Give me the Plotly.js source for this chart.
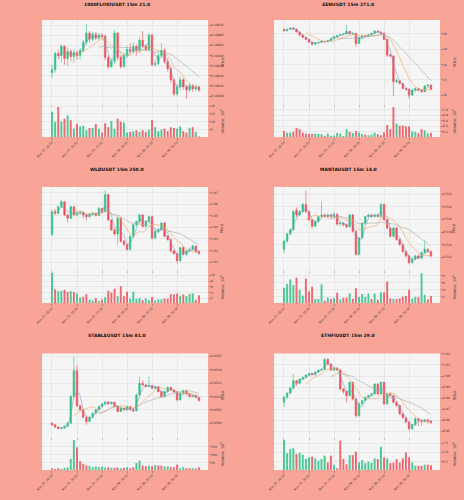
<!DOCTYPE html>
<html><head><meta charset="utf-8">
<script src="https://cdn.plot.ly/plotly-3.0.1.min.js"></script>
<style>html,body{margin:0;padding:0;background:#F8A598;}#chart{width:464px;height:500px;}</style>
</head><body><div id="chart"></div>
<script>
// ---------- tick labels / categories ----------
const timeLabels = ['Nov 07, 18:00','Nov 07, 20:00','Nov 07, 22:00','Nov 08, 00:00','Nov 08, 02:00','Nov 08, 04:00'];
const timeTickIdx = [0, 8, 16, 24, 32, 40];
const panelTitles = ['1000FLOKIUSDT 15m 21.0','ZENUSDT 15m 271.0','WLDUSDT 15m 250.0','MANTAUSDT 15m 14.0','STABLEUSDT 15m 81.0','ETHFIUSDT 15m 29.0'];

// ---------- 1000FLOKIUSDT ----------
const flokiOpen  = [0.10823,0.10826,0.10842,0.10840,0.10849,0.10837,0.10844,0.10839,0.10843,0.10840,0.10845,0.10853,0.10862,0.10856,0.10861,0.10857,0.10860,0.10859,0.10838,0.10829,0.10834,0.10862,0.10838,0.10829,0.10840,0.10846,0.10844,0.10849,0.10845,0.10855,0.10849,0.10846,0.10860,0.10831,0.10832,0.10840,0.10845,0.10834,0.10827,0.10816,0.10802,0.10809,0.10816,0.10809,0.10806,0.10810,0.10807,0.10809];
const flokiClose = [0.10826,0.10842,0.10840,0.10849,0.10837,0.10844,0.10839,0.10843,0.10840,0.10845,0.10853,0.10862,0.10856,0.10861,0.10857,0.10860,0.10859,0.10838,0.10829,0.10834,0.10862,0.10838,0.10829,0.10840,0.10846,0.10844,0.10849,0.10845,0.10855,0.10849,0.10846,0.10860,0.10831,0.10832,0.10840,0.10845,0.10834,0.10827,0.10816,0.10802,0.10809,0.10816,0.10809,0.10806,0.10810,0.10807,0.10809,0.10806];
const flokiHigh  = [0.10831,0.10844,0.10846,0.10851,0.10850,0.10847,0.10846,0.10846,0.10845,0.10847,0.10855,0.10871,0.10864,0.10863,0.10863,0.10862,0.10862,0.10861,0.10840,0.10837,0.10865,0.10863,0.10840,0.10843,0.10849,0.10852,0.10853,0.10851,0.10858,0.10864,0.10851,0.10862,0.10861,0.10836,0.10843,0.10852,0.10847,0.10837,0.10829,0.10818,0.10812,0.10819,0.10818,0.10811,0.10813,0.10812,0.10811,0.10810];
const flokiLow   = [0.10818,0.10823,0.10837,0.10833,0.10831,0.10830,0.10834,0.10833,0.10836,0.10836,0.10843,0.10851,0.10853,0.10854,0.10855,0.10855,0.10856,0.10835,0.10827,0.10828,0.10832,0.10835,0.10827,0.10828,0.10838,0.10841,0.10842,0.10840,0.10843,0.10847,0.10844,0.10844,0.10829,0.10829,0.10830,0.10838,0.10832,0.10824,0.10813,0.10800,0.10800,0.10806,0.10806,0.10797,0.10804,0.10804,0.10805,0.10804];
const flokiVolume = [16.5,10,19.5,10,12,14,11,5.5,8.5,7,7.5,4.5,6,6,8.5,5.5,3,9,6.5,10.5,5.5,12,10,9.5,3,3.5,4,4.5,3.5,4.5,3.5,5,11,6.5,4,5,5.5,4,6.5,6,5.5,7,4,3,6,6.5,3.5,0.5];

// ---------- ZENUSDT ----------
const zenOpen  = [20.28,20.19,20.28,20.37,20.30,20.11,19.91,19.76,19.63,19.44,19.31,19.42,19.44,19.50,19.48,19.55,19.68,19.81,19.89,19.94,19.98,20.15,19.98,20.02,19.37,19.76,19.85,19.83,19.94,20.02,20.17,20.11,20.02,19.63,18.62,18.55,16.89,16.95,16.78,16.45,16.39,16.02,16.35,16.43,16.35,16.24,16.61,16.67];
const zenClose = [20.19,20.28,20.37,20.30,20.11,19.91,19.76,19.63,19.44,19.31,19.42,19.44,19.50,19.48,19.55,19.68,19.81,19.89,19.94,19.98,20.15,19.98,20.02,19.37,19.76,19.85,19.83,19.94,20.02,20.17,20.11,20.02,19.63,18.62,18.55,16.89,16.95,16.78,16.45,16.39,16.02,16.35,16.43,16.35,16.24,16.61,16.67,16.39];
const zenHigh  = [20.33,20.32,20.41,20.40,20.32,20.13,19.93,19.78,19.66,19.47,19.45,19.48,19.55,19.53,19.58,19.70,19.84,19.92,19.98,20.02,20.56,20.17,20.06,20.04,19.79,19.88,19.89,19.97,20.06,20.24,20.20,20.13,20.04,19.66,18.70,18.58,17.10,17.00,16.82,16.50,16.43,16.39,16.52,16.47,16.38,16.64,16.72,16.70];
const zenLow   = [20.15,20.15,20.25,20.27,20.08,19.87,19.72,19.58,19.40,19.22,19.28,19.38,19.40,19.43,19.45,19.52,19.65,19.77,19.86,19.90,19.95,19.94,19.95,19.16,19.33,19.72,19.79,19.80,19.90,19.98,20.06,19.98,19.58,18.50,18.46,15.96,16.80,16.70,16.40,16.30,15.76,15.98,16.30,16.28,16.18,16.22,16.58,16.33];
const zenVolume = [0.22,0.17,0.17,0.20,0.34,0.30,0.17,0.14,0.13,0.13,0.14,0.13,0.12,0.06,0.14,0.06,0.07,0.16,0.14,0.05,0.30,0.20,0.16,0.23,0.18,0.12,0.10,0.08,0.10,0.17,0.12,0.08,0.18,0.45,0.30,1.10,0.50,0.42,0.43,0.40,0.40,0.22,0.20,0.15,0.30,0.25,0.15,0.17];

// ---------- WLDUSDT ----------
const wldOpen  = [2.0338,2.0536,2.0522,2.0578,2.0621,2.0508,2.0479,2.0578,2.0508,2.0522,2.0530,2.0508,2.0493,2.0513,2.0522,2.0502,2.0564,2.0536,2.0683,2.0465,2.0380,2.0343,2.0479,2.0281,2.0253,2.0210,2.0324,2.0423,2.0451,2.0508,2.0408,2.0451,2.0493,2.0309,2.0366,2.0380,2.0437,2.0324,2.0295,2.0196,2.0174,2.0111,2.0225,2.0168,2.0196,2.0210,2.0239,2.0191];
const wldClose = [2.0536,2.0522,2.0578,2.0621,2.0508,2.0479,2.0578,2.0508,2.0522,2.0530,2.0508,2.0493,2.0513,2.0522,2.0502,2.0564,2.0536,2.0683,2.0465,2.0380,2.0343,2.0479,2.0281,2.0253,2.0210,2.0324,2.0423,2.0451,2.0508,2.0408,2.0451,2.0493,2.0309,2.0366,2.0380,2.0437,2.0324,2.0295,2.0196,2.0174,2.0111,2.0225,2.0168,2.0196,2.0210,2.0239,2.0191,2.0174];
const wldHigh  = [2.0550,2.0560,2.0590,2.0640,2.0625,2.0515,2.0590,2.0585,2.0530,2.0545,2.0540,2.0515,2.0525,2.0535,2.0530,2.0575,2.0570,2.0720,2.0690,2.0470,2.0390,2.0490,2.0485,2.0290,2.0260,2.0330,2.0430,2.0460,2.0520,2.0515,2.0460,2.0500,2.0500,2.0370,2.0395,2.0450,2.0450,2.0335,2.0300,2.0210,2.0180,2.0235,2.0240,2.0205,2.0225,2.0250,2.0245,2.0200];
const wldLow   = [2.0325,2.0505,2.0510,2.0570,2.0500,2.0440,2.0470,2.0500,2.0495,2.0515,2.0480,2.0460,2.0485,2.0505,2.0495,2.0495,2.0525,2.0530,2.0455,2.0370,2.0330,2.0250,2.0270,2.0240,2.0200,2.0200,2.0310,2.0410,2.0440,2.0400,2.0400,2.0440,2.0295,2.0300,2.0360,2.0370,2.0315,2.0285,2.0185,2.0165,2.0090,2.0105,2.0155,2.0150,2.0190,2.0200,2.0180,2.0165];
const wldVolume = [10.8,5.1,4.5,4.6,5.0,4.2,4.5,4.2,3.6,2.2,2.5,3.4,1.5,1.2,2.0,1.0,1.5,2.3,4.6,4.0,5.3,2.7,6.2,2.7,4.3,1.8,4.3,1.7,2.0,1.3,2.0,1.3,2.4,1.2,1.6,1.6,1.9,1.8,3.4,3.3,3.6,2.8,3.3,2.7,3.5,3.7,1.4,3.0];

// ---------- MANTAUSDT ----------
const mantaOpen  = [0.51325,0.51455,0.51570,0.51638,0.51950,0.51872,0.51924,0.52039,0.51924,0.51794,0.51690,0.51768,0.51846,0.51872,0.51846,0.51872,0.51846,0.51883,0.51726,0.51742,0.51716,0.51685,0.51872,0.51612,0.51247,0.51507,0.51742,0.51846,0.51872,0.51846,0.51872,0.51846,0.52039,0.51794,0.51664,0.51533,0.51664,0.51481,0.51403,0.51289,0.51221,0.51117,0.51169,0.51221,0.51184,0.51273,0.51325,0.51289];
const mantaClose = [0.51455,0.51570,0.51638,0.51924,0.51872,0.51924,0.52039,0.51924,0.51794,0.51690,0.51768,0.51846,0.51872,0.51846,0.51872,0.51846,0.51883,0.51726,0.51742,0.51716,0.51685,0.51872,0.51612,0.51247,0.51507,0.51742,0.51846,0.51872,0.51846,0.51872,0.51846,0.52039,0.51794,0.51664,0.51533,0.51664,0.51481,0.51403,0.51289,0.51221,0.51117,0.51169,0.51221,0.51184,0.51273,0.51325,0.51289,0.51221];
const mantaHigh  = [0.51480,0.51590,0.51660,0.51950,0.51990,0.51950,0.52060,0.52263,0.51940,0.51810,0.51790,0.51860,0.52080,0.51890,0.51895,0.51890,0.51920,0.51900,0.51760,0.51760,0.51730,0.51890,0.51890,0.51630,0.51520,0.51760,0.51860,0.51890,0.51880,0.51890,0.51890,0.52060,0.52050,0.51810,0.51680,0.51690,0.51680,0.51500,0.51420,0.51310,0.51240,0.51190,0.51240,0.51240,0.51290,0.51466,0.51340,0.51300];
const mantaLow   = [0.51270,0.51430,0.51550,0.51620,0.51840,0.51850,0.51900,0.51900,0.51770,0.51660,0.51680,0.51750,0.51830,0.51830,0.51830,0.51830,0.51830,0.51700,0.51700,0.51690,0.51660,0.51670,0.51590,0.51230,0.51230,0.51490,0.51720,0.51830,0.51830,0.51830,0.51830,0.51830,0.51780,0.51640,0.51510,0.51510,0.51460,0.51380,0.51270,0.51200,0.51091,0.51100,0.51150,0.51170,0.51170,0.51250,0.51270,0.51200];
const mantaVolume = [4.6,5.7,7.0,5.4,7.5,4.0,2.4,7.2,3.6,4.9,1.4,1.4,5.6,0.9,1.8,1.4,1.7,3.2,1.3,1.8,1.8,3.0,1.5,4.5,2.0,2.8,2.0,3.0,1.4,3.0,1.2,3.3,3.3,6.4,1.6,1.5,1.4,1.6,2.1,2.3,4.0,1.5,2.0,1.9,8.8,2.6,1.3,2.3];

// ---------- STABLEUSDT ----------
const stableOpen  = [0.050000,0.049938,0.049851,0.049801,0.049813,0.049888,0.050000,0.050995,0.051966,0.050647,0.050498,0.050224,0.050062,0.050224,0.050373,0.050498,0.050622,0.050722,0.050796,0.050722,0.050784,0.050622,0.050435,0.050560,0.050498,0.050622,0.050498,0.050460,0.051057,0.051493,0.051431,0.051368,0.051406,0.051306,0.051368,0.051182,0.050995,0.051182,0.051344,0.051244,0.051169,0.050871,0.051120,0.051207,0.051095,0.050995,0.051033,0.050958];
const stableClose = [0.049938,0.049851,0.049801,0.049813,0.049888,0.050000,0.050995,0.051966,0.050647,0.050498,0.050224,0.050062,0.050224,0.050373,0.050498,0.050622,0.050722,0.050796,0.050722,0.050784,0.050622,0.050435,0.050560,0.050498,0.050622,0.050498,0.050460,0.051057,0.051493,0.051431,0.051368,0.051406,0.051306,0.051368,0.051182,0.050995,0.051182,0.051344,0.051244,0.051169,0.050871,0.051120,0.051207,0.051095,0.050995,0.051033,0.050958,0.050846];
const stableHigh  = [0.050030,0.049960,0.049880,0.049840,0.049910,0.050030,0.051050,0.052488,0.052177,0.050680,0.050520,0.050250,0.050250,0.050400,0.050520,0.050650,0.050750,0.050830,0.050830,0.050810,0.050800,0.050650,0.050600,0.050580,0.050650,0.050640,0.050520,0.051100,0.051742,0.051600,0.051460,0.051742,0.051430,0.051400,0.051390,0.051200,0.051210,0.051370,0.051360,0.051270,0.051190,0.051150,0.051240,0.051230,0.051110,0.051060,0.051060,0.050980];
const stableLow   = [0.049900,0.049820,0.049770,0.049760,0.049780,0.049860,0.049970,0.050950,0.050600,0.050460,0.050190,0.049938,0.050030,0.050200,0.050350,0.050470,0.050600,0.050700,0.050690,0.050700,0.050600,0.050400,0.050420,0.050470,0.050470,0.050470,0.050430,0.050440,0.051020,0.051400,0.051330,0.051340,0.051280,0.051280,0.051150,0.050970,0.050970,0.051160,0.051220,0.051140,0.050820,0.050850,0.051090,0.051070,0.050970,0.050970,0.050930,0.050800];
const stableVolume = [14,10,14,10,16,20,72,190,145,58,41,31,29,21,25,21,23,17,21,17,17,19,14,17,21,14,21,46,62,31,27,31,27,33,31,31,25,25,21,21,37,14,21,14,14,14,12,19];

// ---------- ETHFIUSDT ----------
const ethfiOpen  = [0.97635,0.98084,0.98443,0.98922,0.99581,0.99341,0.99731,0.99880,1.00090,1.00240,1.00120,1.00359,1.00539,1.00599,1.01527,1.01078,1.00539,1.00719,1.00539,0.98832,0.98593,0.98234,0.99431,0.97934,0.96437,0.97485,0.97784,0.98084,0.98234,0.98383,0.99281,0.98383,0.99431,0.97485,0.98383,0.98234,0.97635,0.97335,0.96587,0.96228,0.95838,0.95240,0.95599,0.96138,0.95988,0.95898,0.96048,0.95928];
const ethfiClose = [0.98084,0.98443,0.98922,0.99581,0.99341,0.99731,0.99880,1.00090,1.00240,1.00120,1.00359,1.00539,1.00599,1.01527,1.01078,1.00539,1.00719,1.00539,0.98832,0.98593,0.98234,0.99431,0.97934,0.96437,0.97485,0.97784,0.98084,0.98234,0.98383,0.99281,0.98383,0.99431,0.97485,0.98383,0.98234,0.97635,0.97335,0.96587,0.96228,0.95838,0.95240,0.95599,0.96138,0.95988,0.95898,0.96048,0.95928,0.95778];
const ethfiHigh  = [0.98200,0.98550,0.99000,1.00180,0.99650,0.99800,0.99950,1.00150,1.00300,1.00300,1.00420,1.00600,1.00700,1.01600,1.01560,1.01150,1.00800,1.00780,1.00600,0.98900,0.98700,0.99500,0.99500,0.98000,0.97600,0.97850,0.98200,0.98300,0.98450,0.99350,0.99350,0.99500,0.99500,0.98450,0.98450,0.98300,0.97700,0.97400,0.96650,0.96300,0.95900,0.95700,0.96300,0.96200,0.96050,0.96100,0.96100,0.96000];
const ethfiLow   = [0.97186,0.97950,0.98350,0.98850,0.99100,0.99250,0.99650,0.99800,1.00000,1.00050,1.00050,1.00300,1.00480,1.00550,1.01000,1.00450,1.00450,1.00450,0.98700,0.98400,0.97600,0.98150,0.97800,0.96200,0.96300,0.97400,0.97700,0.98000,0.98150,0.98300,0.98300,0.98300,0.97400,0.97400,0.98150,0.97550,0.97250,0.96500,0.96150,0.95700,0.95090,0.95150,0.95500,0.95500,0.95500,0.95800,0.95700,0.95700];
const ethfiVolume = [1.67,0.96,1.18,1.22,0.91,0.98,0.87,0.64,0.73,0.76,0.67,0.55,0.64,0.82,0.45,0.82,0.33,0.13,1.64,0.64,0.35,0.85,0.85,1.04,0.45,0.58,0.42,0.49,0.42,0.67,0.64,1.31,0.73,0.67,0.42,0.45,0.64,0.45,0.67,1.0,0.73,0.45,0.27,0.27,0.27,0.33,0.33,0.30];

// ---------- price / volume axis ticks ----------
const priceTicks = [
  [0.1080,0.1081,0.1082,0.1083,0.1084,0.1085,0.1086,0.1087],
  [16,17,18,19,20],
  [2.01,2.02,2.03,2.04,2.05,2.06,2.07],
  [0.512,0.514,0.516,0.518,0.520,0.522],
  [0.0500,0.0505,0.0510,0.0515,0.0520,0.0525],
  [0.95,0.96,0.97,0.98,0.99,1.00,1.01,1.02]
];
const volumeTicks = [[5,10,15,20],[0.2,0.4,0.6,0.8,1.0],[2,4,6,8,10],[2,4,6,8],[50,100,150],[0.5,1.0,1.5]];
const volumeExp = ['6','5','5','6','6','6'];

// ---------- styling / layout config ----------
const UP = '#2fbf86', DOWN = '#ef4f57';
const MA_COLORS = ['#7e9fc8', '#f2a35e', '#a3aaa8'];
const MA_WINDOWS = [3, 8, 16];
const priceFormats = ['.5f', 'd', '.2f', '.3f', '.4f', '.2f'];
const volFormats = ['d', '.1f', 'd', 'd', 'd', '.1f'];
const priceRanges = [[0.107921,0.108750],[15.44,20.886],[2.0032,2.0749],[0.50997,0.52315],[0.04948,0.05261],[0.94491,1.02036]];
const colDom = [[0.0905,0.4483],[0.5905,0.9483]];
const rowPrice = [[0.792,0.96],[0.46,0.626],[0.126,0.293]];
const rowVol = [[0.726,0.792],[0.394,0.46],[0.06,0.126]];
const titleY = [0.992, 0.66, 0.328];
const axisTitleX = [0.4784, 0.9784];

const data = [
  {o: flokiOpen, h: flokiHigh, l: flokiLow, c: flokiClose, v: flokiVolume},
  {o: zenOpen, h: zenHigh, l: zenLow, c: zenClose, v: zenVolume},
  {o: wldOpen, h: wldHigh, l: wldLow, c: wldClose, v: wldVolume},
  {o: mantaOpen, h: mantaHigh, l: mantaLow, c: mantaClose, v: mantaVolume},
  {o: stableOpen, h: stableHigh, l: stableLow, c: stableClose, v: stableVolume},
  {o: ethfiOpen, h: ethfiHigh, l: ethfiLow, c: ethfiClose, v: ethfiVolume}
];

function sma(arr, n) {
  return arr.map((_, i) => {
    if (i < n - 1) return null;
    let s = 0; for (let k = i - n + 1; k <= i; k++) s += arr[k];
    return s / n;
  });
}

const FONT = 'DejaVu Sans, sans-serif';
const traces = [];
const layout = {
  width: 464, height: 500,
  margin: {l: 0, r: 0, t: 0, b: 0},
  paper_bgcolor: '#F8A598', plot_bgcolor: '#F5F5F5',
  showlegend: false,
  font: {family: FONT, color: '#222', size: 3},
  annotations: []
};

data.forEach((d, k) => {
  const col = k % 2, row = Math.floor(k / 2);
  const xi = 2 * k + 1, vi = 2 * k + 2;
  const xP = 'x' + xi, yP = 'y' + xi, xV = 'x' + vi, yV = 'y' + vi;
  const idx = d.c.map((_, i) => i);

  traces.push({
    type: 'candlestick', x: idx, open: d.o, high: d.h, low: d.l, close: d.c,
    xaxis: xP, yaxis: yP, whiskerwidth: 0,
    increasing: {line: {color: UP, width: 0.6}, fillcolor: UP},
    decreasing: {line: {color: DOWN, width: 0.6}, fillcolor: DOWN},
    hoverinfo: 'skip'
  });
  MA_WINDOWS.forEach((w, j) => {
    traces.push({
      type: 'scatter', mode: 'lines', x: idx, y: sma(d.c, w),
      xaxis: xP, yaxis: yP, line: {color: MA_COLORS[j], width: 0.6}, hoverinfo: 'skip'
    });
  });
  traces.push({
    type: 'bar', x: idx, y: d.v, xaxis: xV, yaxis: yV, width: 0.62,
    marker: {color: d.c.map((c, i) => c >= d.o[i] ? UP : DOWN), opacity: 0.85, line: {width: 0}},
    hoverinfo: 'skip'
  });

  const vmin = Math.min(...d.v), vmax = Math.max(...d.v);
  const gx = {
    domain: colDom[col], range: [-3.2, 49.9], showgrid: true, gridcolor: '#dcdcdc', gridwidth: 0.5,
    zeroline: false, tickmode: 'array', tickvals: timeTickIdx, ticktext: timeLabels,
    ticks: 'outside', ticklen: 1.5, tickwidth: 0.5, tickcolor: '#555', showline: false
  };
  layout['xaxis' + xi] = Object.assign({}, gx, {anchor: yP, matches: xV, showticklabels: false, rangeslider: {visible: false}});
  layout['xaxis' + vi] = Object.assign({}, gx, {anchor: yV, showticklabels: true, tickangle: -45,
    tickfont: {size: 3, color: '#333', family: FONT}});
  layout['yaxis' + xi] = {
    domain: rowPrice[row], anchor: xP, side: 'right', range: priceRanges[k],
    tickmode: 'array', tickvals: priceTicks[k], tickformat: priceFormats[k],
    tickfont: {size: 3, color: '#333', family: FONT}, ticks: 'outside', ticklen: 1.5, tickwidth: 0.5, tickcolor: '#555',
    showgrid: true, gridcolor: '#dcdcdc', gridwidth: 0.5, zeroline: false
  };
  layout['yaxis' + vi] = {
    domain: rowVol[row], anchor: xV, side: 'right', range: [0.3 * vmin, 1.1 * vmax],
    tickmode: 'array', tickvals: volumeTicks[k], tickformat: volFormats[k],
    tickfont: {size: 3, color: '#333', family: FONT}, ticks: 'outside', ticklen: 1.5, tickwidth: 0.5, tickcolor: '#555',
    showgrid: true, gridcolor: '#dcdcdc', gridwidth: 0.5, zeroline: false
  };
  // panel title
  layout.annotations.push({
    xref: 'paper', yref: 'paper', x: col === 0 ? 0.252 : 0.75, y: titleY[row],
    xanchor: 'center', yanchor: 'middle', showarrow: false,
    text: '<b>' + panelTitles[k] + '</b>', font: {size: 4.5, color: '#111', family: FONT}
  });
  // right-side axis labels
  layout.annotations.push({
    xref: 'paper', yref: 'paper', x: axisTitleX[col], y: (rowPrice[row][0] + rowPrice[row][1]) / 2,
    xanchor: 'center', yanchor: 'middle', showarrow: false, textangle: -90,
    text: 'Price', font: {size: 4, color: '#333', family: FONT}
  });
  layout.annotations.push({
    xref: 'paper', yref: 'paper', x: axisTitleX[col], y: (rowVol[row][0] + rowVol[row][1]) / 2,
    xanchor: 'center', yanchor: 'middle', showarrow: false, textangle: -90,
    text: 'Volume  10<sup>' + volumeExp[k] + '</sup>', font: {size: 4, color: '#333', family: FONT}
  });
});

Plotly.newPlot('chart', traces, layout, {staticPlot: true, displayModeBar: false}).then(gd => {
  // remove invisible, zero-sized text nodes that Plotly leaves behind
  gd.querySelectorAll('text').forEach(t => {
    let bb = null;
    try { bb = t.getBBox(); } catch (e) { bb = null; }
    if (!t.textContent.trim() || !bb || bb.width === 0 || bb.height === 0) t.remove();
  });
});
</script>
</body></html>
